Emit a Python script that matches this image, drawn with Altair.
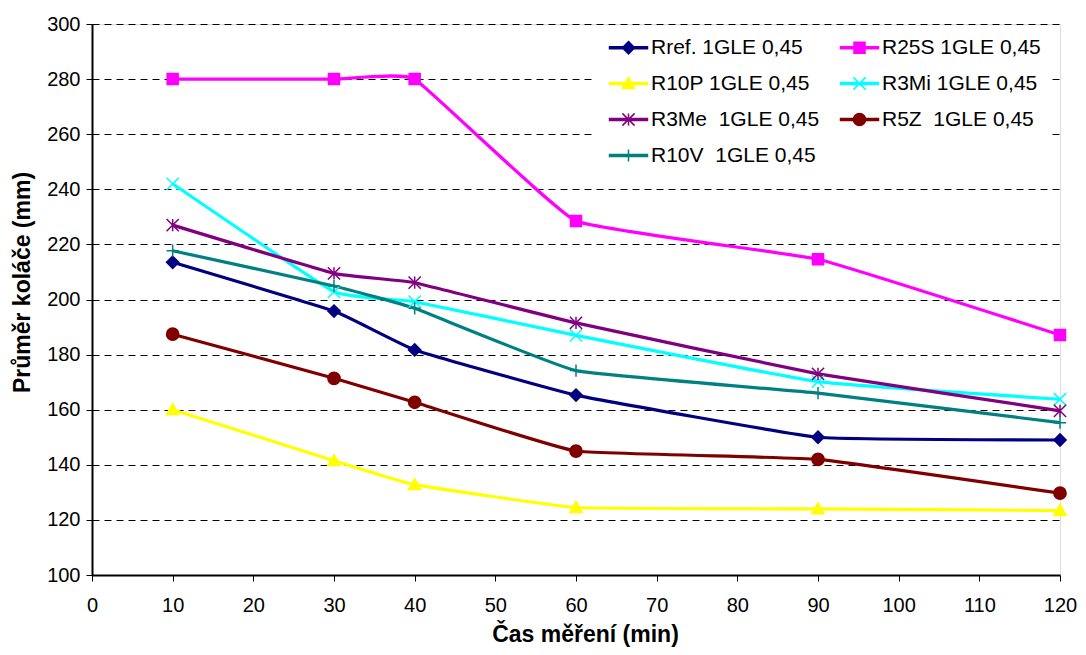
import altair as alt
import pandas as pd

times = [10, 30, 40, 60, 90, 120]

series_names = [
    "Rref. 1GLE 0,45",
    "R25S 1GLE 0,45",
    "R10P 1GLE 0,45",
    "R3Mi 1GLE 0,45",
    "R3Me\u00a0 1GLE 0,45",
    "R5Z\u00a0 1GLE 0,45",
    "R10V\u00a0 1GLE 0,45",
]

rref = [213.5, 195.8, 181.7, 165.3, 150.0, 149.0]
r25s = [280.0, 280.0, 280.0, 228.5, 214.6, 187.1]
r10p = [160.0, 141.5, 132.8, 124.5, 124.0, 123.4]
r3mi = [242.0, 202.8, 199.2, 187.0, 170.2, 163.8]
r3me = [227.0, 209.5, 206.1, 191.5, 173.0, 159.6]
r5z = [187.4, 171.4, 162.7, 145.0, 142.0, 129.7]
r10v = [217.7, 204.9, 196.8, 174.2, 166.0, 155.3]

series_values = [rref, r25s, r10p, r3mi, r3me, r5z, r10v]

colors = ["#000080", "#FF00FF", "#FFFF00", "#00FFFF", "#800080", "#800000", "#008080"]

# marker shapes (unit box -1..1)
diamond = "M0,-1L1,0L0,1L-1,0Z"
square = "M-0.9,-0.9H0.9V0.9H-0.9Z"
triangle = "M0,-1L1,0.8L-1,0.8Z"
xmark = "M-1,-1L1,1M-1,1L1,-1"
asterisk = "M-1,-1L1,1M-1,1L1,-1M0,-1L0,1"
circle = "M1,0A1,1,0,1,1,-1,0A1,1,0,1,1,1,0Z"
plus = "M-1,0L1,0M0,-1L0,1"
marker_paths = [diamond, square, triangle, xmark, asterisk, circle, plus]

legend_line = "M-3.1,-0.16H3.1V0.16H-3.1Z"
legend_paths = [legend_line + p for p in marker_paths]

# legend fills column by column: put entries so rows read pairwise
legend_order = [0, 2, 4, 6, 1, 3, 5]
legend_names = [series_names[i] for i in legend_order]
legend_colors = [colors[i] for i in legend_order]
legend_shapes = [legend_paths[i] for i in legend_order]

rows = []
for name, vals, col, pth in zip(series_names, series_values, colors, marker_paths):
    for t, v in zip(times, vals):
        rows.append({"t": t, "v": v, "s": name, "col": col, "path": pth})
df = pd.DataFrame(rows)

FONT = "Liberation Sans"
W = 968
H = 551

x_enc = alt.X(
    "t:Q",
    scale=alt.Scale(domain=[0, 120], nice=False, zero=False),
    axis=alt.Axis(
        values=list(range(0, 121, 10)),
        title="Čas měření (min)",
        grid=False,
        labelFontSize=20,
        labelFont=FONT,
        labelColor="black",
        labelPadding=14,
        tickSize=6,
        tickColor="black",
        domainColor="black",
        domainWidth=2,
        titleFont=FONT,
        titleFontSize=23,
        titleFontWeight="bold",
        titleColor="black",
        titleX=493,
        titleY=59,
        titleBaseline="middle",
        titleAlign="center",
        labelFlush=False,
    ),
)
y_enc = alt.Y(
    "v:Q",
    scale=alt.Scale(domain=[100, 300], nice=False, zero=False),
    axis=alt.Axis(
        values=list(range(100, 301, 20)),
        title="Průměr koláče (mm)",
        grid=True,
        gridColor="black",
        gridDash=[7, 5],
        gridWidth=1,
        labelFontSize=20,
        labelFont=FONT,
        labelColor="black",
        labelPadding=6,
        tickSize=6,
        tickColor="black",
        domainColor="black",
        domainWidth=2,
        titleFont=FONT,
        titleFontSize=23,
        titleFontWeight="bold",
        titleColor="black",
        titleX=-70,
        titleY=258,
        titleAngle=270,
        titleBaseline="middle",
        titleAlign="center",
        labelFlush=False,
    ),
)

base = alt.Chart(df)

lines = base.mark_line(interpolate="cardinal", tension=0.7, strokeWidth=3.2).encode(
    x=x_enc,
    y=y_enc,
    stroke=alt.Stroke("col:N", scale=None),
    detail="s:N",
)

points = base.mark_point(filled=True, size=150, strokeWidth=1.5, opacity=1).encode(
    x=x_enc,
    y=y_enc,
    fill=alt.Fill("col:N", scale=None),
    stroke=alt.Stroke("col:N", scale=None),
    shape=alt.Shape("path:N", scale=None),
)

leg = alt.Legend(
    orient="none",
    legendX=503,
    legendY=3,
    columns=2,
    title=None,
    labelFont=FONT,
    labelFontSize=21,
    labelColor="black",
    symbolSize=150,
    symbolStrokeWidth=1.5,
    symbolOffset=13,
    labelOffset=12,
    columnPadding=16,
    rowPadding=14,
    padding=10,
    fillColor="white",
    labelLimit=400,
)

legend_layer = base.transform_filter("datum.t < 0").mark_point(
    filled=True, size=150, strokeWidth=1.5, opacity=1
).encode(
    x=x_enc,
    y=y_enc,
    fill=alt.Fill("s:N", scale=alt.Scale(domain=legend_names, range=legend_colors), legend=leg),
    stroke=alt.Stroke("s:N", scale=alt.Scale(domain=legend_names, range=legend_colors), legend=leg),
    shape=alt.Shape("s:N", scale=alt.Scale(domain=legend_names, range=legend_shapes), legend=leg),
)

chart = (
    alt.layer(lines, points, legend_layer)
    .properties(
        width=W,
        height=H,
        autosize=alt.AutoSizeParams(type="none"),
        padding={"left": 84, "top": 16, "right": 18, "bottom": 72},
    )
    .configure_view(stroke="black", strokeWidth=2)
    .configure(background="white")
)

chart.save("out.html", embed_options={"renderer": "svg", "actions": False})
